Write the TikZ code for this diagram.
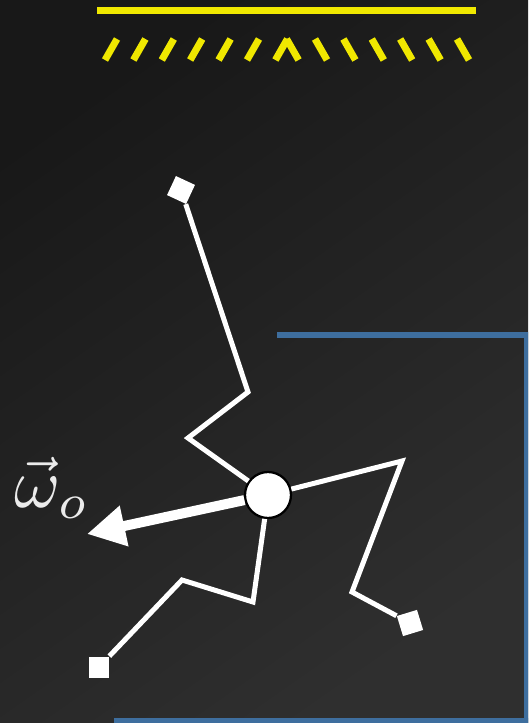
\documentclass[tikz,border=0pt]{standalone}
\usepackage{amsmath}
\usepackage{xcolor}
\usetikzlibrary{arrows.meta}

\definecolor{bgdark}{RGB}{24,24,24}
\definecolor{bglight}{RGB}{47,47,47}
\definecolor{lampyellow}{RGB}{240,232,0}
\definecolor{wallblue}{RGB}{62,110,158}

\begin{document}
\begin{tikzpicture}[x=0.02cm, y=-0.02cm,
  limb/.style={white, line width=0.1cm},
  raydash/.style={lampyellow, line width=0.14cm},
  wall/.style={wallblue, line width=0.12cm},
  endsq/.style={rectangle, fill=white, minimum size=0.42cm, inner sep=0pt},
  joint/.style={circle, fill=white, draw=black, line width=0.045cm, minimum size=0.92cm, inner sep=0pt},
]
\shade[top color=bgdark, bottom color=bglight, shading angle=35] (0,0) rectangle (528,723);
\useasboundingbox (0,0) rectangle (528,723);
\clip (0,0) rectangle (528,723);

\draw[raydash] (97,10.5) -- (476,10.5);
\foreach \k in {0,...,6} {
  \draw[raydash] ({111+28.4*\k-6},60) -- ({111+28.4*\k+6},39);
  \draw[raydash] ({463-28.4*\k-6},39) -- ({463-28.4*\k+6},60);
}

\draw[wall] (277,335) -- (527,335) -- (527,730);
\draw[wall] (114,720.5) -- (530,720.5);

\node[joint] (joint) at (268,495) {};
\node[endsq, rotate=-25] (tipA) at (181,190) {};
\node[endsq, rotate=17] (tipB) at (410,623) {};
\node[endsq] (tipC) at (99,667) {};
\coordinate (wtip) at (87,534);

\draw[limb] (joint) -- (188,438) -- (248,392) -- (tipA);
\draw[limb] (joint) -- (402,461) -- (352,592) -- (tipB);
\draw[limb] (joint) -- (253,602) -- (182,580) -- (tipC);

\draw[white, line width=0.2cm, -{Triangle[length=0.76cm, width=0.78cm]}] (joint) -- (wtip);
\node[text=white!92!black, scale=4, transform shape] (wlabel) at (52,488) {$\vec{\omega}_o$};
\end{tikzpicture}
\end{document}
